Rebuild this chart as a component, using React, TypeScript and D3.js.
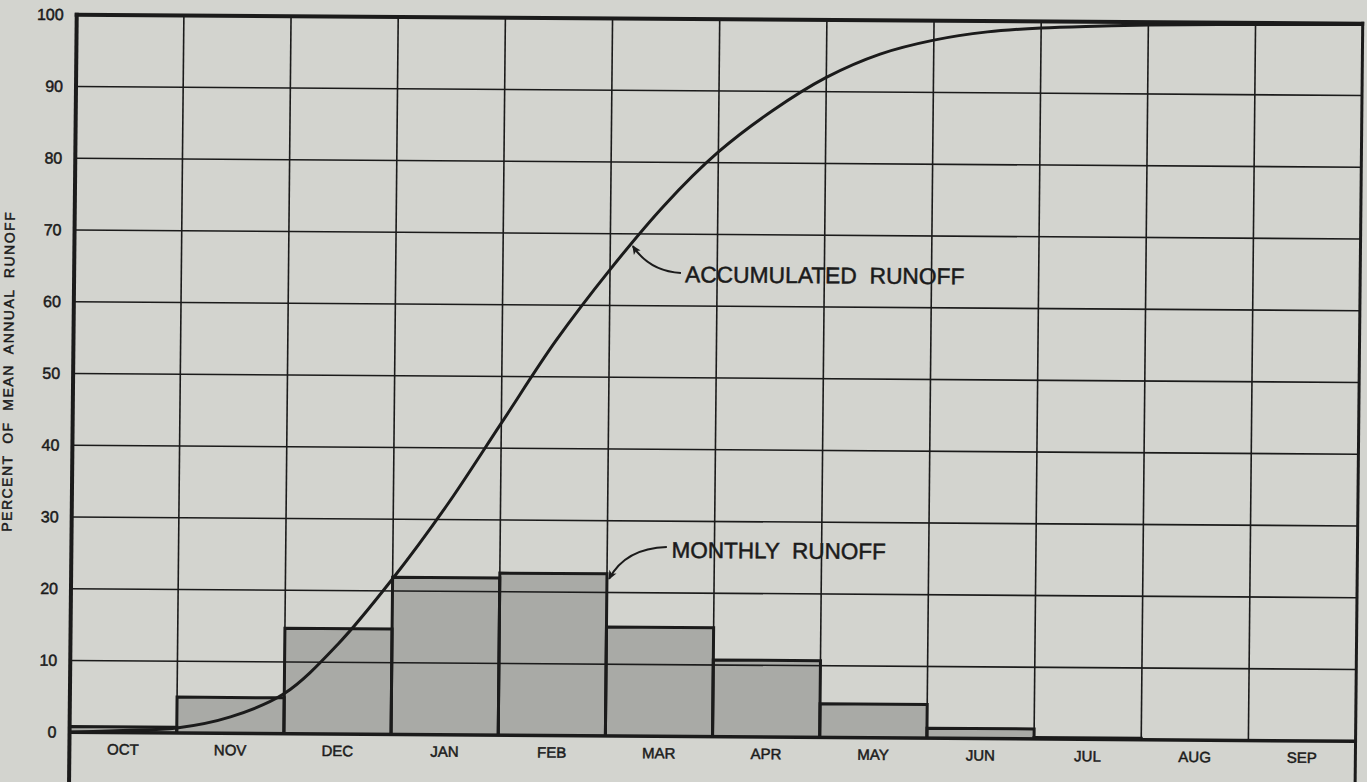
import React from "react";
import * as d3 from "d3";

// monthly and accumulated runoff, percent of mean annual runoff
const months = ["OCT", "NOV", "DEC", "JAN", "FEB", "MAR", "APR", "MAY", "JUN", "JUL", "AUG", "SEP"];
const monthlyRunoff = [0.8, 5.0, 14.7, 21.9, 22.6, 15.2, 10.7, 4.7, 1.4, 0.2, 0, 0];

// accumulated curve, read at half-month steps (position in months from 1 Oct)
const accumPos = [0, 0.5, 1, 1.5, 2, 2.5, 3, 3.5, 4, 4.5, 5, 5.5, 6, 6.5, 7, 7.5, 8, 8.5, 9, 9.5, 10, 11, 12];
const accumRunoff = [0, 0.3, 0.7, 2.3, 5.6, 12.6, 21.7, 32, 43.5, 55, 65, 74, 81.5, 87.3, 92, 95.3, 97.3, 98.5, 99.1, 99.4, 99.6, 99.8, 99.9];

const yTicks = [0, 10, 20, 30, 40, 50, 60, 70, 80, 90, 100];

const W = 1367, H = 782;
const BG = "#d3d4cf";
const INK = "#1b1b1b";
const BAR = "#a9aaa6";
const FONT = "'Liberation Sans', Arial, sans-serif";

// scan is slightly skewed
const skewX = -0.01, skewY = 0.007;

export default function App() {
  const x = d3.scaleLinear().domain([0, 12]).range([73, 1359]);
  const y = d3.scaleLinear().domain([0, 100]).range([736.5, 19]);

  const pts: [number, number][] = accumPos.map((p, i) => [p, accumRunoff[i]]);
  const line = d3.line<[number, number]>()
    .x(d => x(d[0]))
    .y(d => y(d[1]))
    .curve(d3.curveCatmullRom.alpha(0.5));

  const matrix = `matrix(1, ${skewY}, ${skewX}, 1, ${-skewX * 391}, ${-skewY * 683})`;

  const accArrow = `M${x(5.662)},${y(64.6)} Q${x(5.37)},${y(64.8)} ${x(5.21)},${y(68.3)}`;
  const monArrow = `M${x(5.556)},${y(26.4)} Q${x(5.17)},${y(26.2)} ${x(5.02)},${y(21.9)}`;

  const ink = { stroke: INK, strokeWidth: 0.5 };

  return (
    <div>
      <style>{`body{margin:0;background:${BG};}`}</style>
      <svg width={W} height={H} style={{ display: "block", background: BG }}>
        <defs>
          <marker id="arr" viewBox="0 0 10 10" refX="9" refY="5" markerWidth="11" markerHeight="9"
            markerUnits="userSpaceOnUse" orient="auto">
            <path d="M0,0.5 L10,5 L0,9.5 L2.5,5 z" fill={INK} />
          </marker>
        </defs>
        <g transform={matrix} fontFamily={FONT} fill={INK}>
          {/* bars */}
          {monthlyRunoff.map((v, i) => (
            <rect key={"b" + i} x={x(i)} y={y(v)} width={x(i + 1) - x(i)} height={y(0) - y(v)} fill={BAR} />
          ))}

          {/* grid */}
          {yTicks.slice(1, -1).map(t => (
            <line key={"h" + t} x1={x(0)} x2={x(12)} y1={y(t)} y2={y(t)} stroke={INK} strokeWidth={1.6} />
          ))}
          {d3.range(1, 12).map(i => (
            <line key={"v" + i} x1={x(i)} x2={x(i)} y1={y(100)} y2={y(0)} stroke={INK} strokeWidth={1.6} />
          ))}

          {/* bar outlines */}
          {monthlyRunoff.map((v, i) => v > 0 ? (
            <path key={"o" + i}
              d={`M${x(i)},${y(0)} V${y(v)} H${x(i + 1)} V${y(0)}`}
              fill="none" stroke={INK} strokeWidth={3} strokeLinejoin="miter" />
          ) : null)}

          {/* frame */}
          <line x1={x(0)} x2={x(12)} y1={y(0)} y2={y(0)} stroke={INK} strokeWidth={3.5} />
          <line x1={x(0) - 2} x2={x(12) + 1.5} y1={y(100)} y2={y(100)} stroke={INK} strokeWidth={4} />
          <line x1={x(0)} x2={x(0)} y1={y(100) - 2} y2={H + 20} stroke={INK} strokeWidth={4} />
          <line x1={x(12)} x2={x(12)} y1={y(100) - 2} y2={H + 20} stroke={INK} strokeWidth={3} />

          {/* accumulated curve */}
          <path d={line(pts) || ""} fill="none" stroke={INK} strokeWidth={3} />

          {/* y tick labels */}
          {yTicks.map(t => (
            <text key={"yt" + t} x={60} y={y(t)} textAnchor="end" dominantBaseline="central" fontSize={16} {...ink}>{t}</text>
          ))}

          {/* month labels */}
          {months.map((m, i) => (
            <text key={"m" + m} x={x(i + 0.5)} y={y(0) + 22} textAnchor="middle" fontSize={15} {...ink}>{m}</text>
          ))}

          {/* y axis title */}
          <text transform={`translate(13, 376) rotate(-90)`} textAnchor="middle" fontSize={14}
            letterSpacing={1.5} style={{ whiteSpace: "pre" }} {...ink}>
            {"PERCENT  OF  MEAN  ANNUAL  RUNOFF"}
          </text>

          {/* annotations */}
          <path d={accArrow} fill="none" stroke={INK} strokeWidth={2} markerEnd="url(#arr)" />
          <text x={x(5.70)} y={y(63.3)} fontSize={22.8} style={{ whiteSpace: "pre" }} {...ink}>{"ACCUMULATED  RUNOFF"}</text>
          <path d={monArrow} fill="none" stroke={INK} strokeWidth={2} markerEnd="url(#arr)" />
          <text x={x(5.60)} y={y(24.9)} fontSize={22.5} style={{ whiteSpace: "pre" }} {...ink}>{"MONTHLY  RUNOFF"}</text>
        </g>
      </svg>
    </div>
  );
}
